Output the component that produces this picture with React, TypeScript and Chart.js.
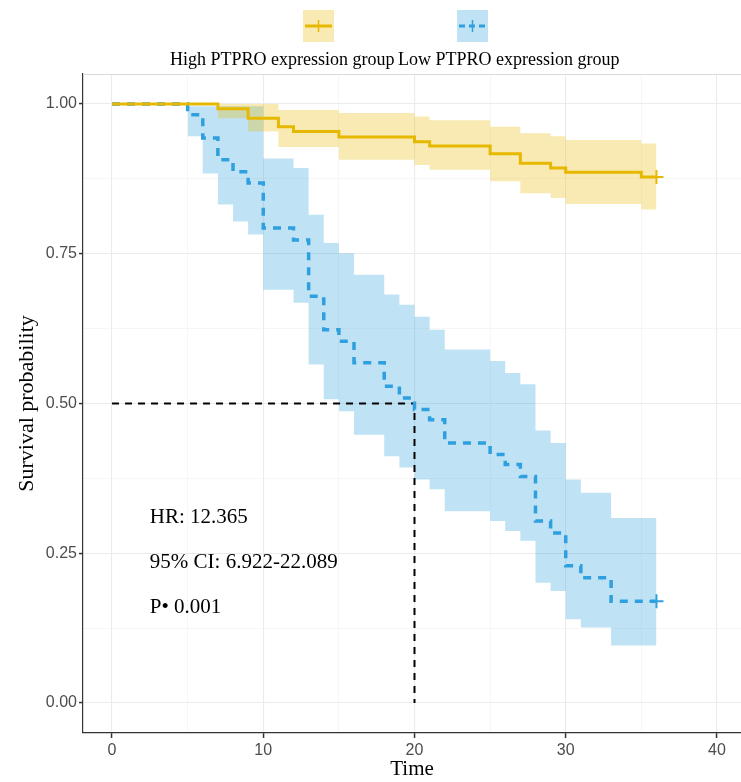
import React, { useEffect, useRef } from 'react';
import { Chart, registerables } from 'chart.js';

Chart.register(...registerables);

// ---- Data ----
const highLabel = 'High PTPRO expression group';
const lowLabel = 'Low PTPRO expression group';

const highTimes = [0, 7, 9, 11, 12, 15, 20, 21, 25, 27, 29, 30, 35, 36];
const highSurv = [1, 0.992, 0.976, 0.962, 0.954, 0.945, 0.937, 0.93, 0.917, 0.901, 0.893, 0.886, 0.878, 0.878];

const highCITimes = [7, 9, 11, 15, 20, 21, 25, 27, 29, 30, 35, 36];
const highUpper = [1, 1, 0.99, 0.985, 0.979, 0.973, 0.962, 0.951, 0.946, 0.94, 0.934, 0.934];
const highLower = [0.976, 0.954, 0.928, 0.907, 0.898, 0.89, 0.871, 0.851, 0.843, 0.833, 0.824, 0.824];

const lowTimes = [0, 5, 6, 7, 8, 9, 10, 12, 13, 14, 15, 16, 18, 19, 20, 21, 22, 25, 26, 27, 28, 29, 30, 31, 33, 36];
const lowSurv = [1, 0.982, 0.943, 0.907, 0.887, 0.868, 0.793, 0.773, 0.679, 0.623, 0.604, 0.568, 0.529, 0.509, 0.49, 0.473, 0.434, 0.415, 0.398, 0.378, 0.304, 0.284, 0.229, 0.209, 0.17, 0.17];

const lowCITimes = [5, 6, 7, 8, 9, 10, 12, 13, 14, 15, 16, 18, 19, 20, 21, 22, 25, 26, 27, 28, 29, 30, 31, 33, 36];
const lowUpper = [0.996, 0.996, 0.996, 0.996, 0.996, 0.909, 0.893, 0.815, 0.768, 0.751, 0.715, 0.682, 0.665, 0.645, 0.623, 0.59, 0.571, 0.551, 0.532, 0.455, 0.434, 0.373, 0.351, 0.309, 0.309];
const lowLower = [0.946, 0.884, 0.832, 0.804, 0.782, 0.69, 0.668, 0.565, 0.507, 0.487, 0.448, 0.412, 0.393, 0.373, 0.357, 0.32, 0.304, 0.287, 0.271, 0.201, 0.187, 0.14, 0.126, 0.096, 0.096];

const medianTimes = [0, 20, 20];
const medianSurv = [0.5, 0.5, 0];

const xTicks = [0, 5, 10, 15, 20, 25, 30, 35, 40];
const yTicks = [0, 0.125, 0.25, 0.375, 0.5, 0.625, 0.75, 0.875, 1];

const annotTexts = ['HR: 12.365', '95% CI: 6.922-22.089', 'P\u2022 0.001'];
const annotX = [2.5, 2.5, 2.5];
const annotY = [0.31, 0.235, 0.16];

const xTitle = 'Time';
const yTitle = 'Survival probability';

// ---- Styles ----
const GOLD = '#E7B800';
const BLUE = '#2E9FDF';
const GOLD_FILL = 'rgba(231,184,0,0.3)';
const BLUE_FILL = 'rgba(46,159,223,0.3)';
const SERIF = '"Liberation Serif", "Times New Roman", serif';
const SANS = '"Liberation Sans", Arial, sans-serif';

const pts = (xs: number[], ys: number[]) => xs.map((x, i) => ({ x, y: ys[i] }));

const isMajorX = (v: number) => v % 10 === 0;
const isMajorY = (v: number) => Math.abs(v * 4 - Math.round(v * 4)) < 1e-9;

const overlayPlugin = {
  id: 'overlay',
  beforeDatasetsDraw(chart: any) {
    const { ctx, chartArea } = chart;
    ctx.save();
    ctx.strokeStyle = '#D9D9D9';
    ctx.lineWidth = 1;
    ctx.beginPath();
    ctx.moveTo(chartArea.left, chartArea.top + 0.5);
    ctx.lineTo(chartArea.right, chartArea.top + 0.5);
    ctx.stroke();
    ctx.restore();
  },
  afterDraw(chart: any) {
    const { ctx } = chart;
    const xs = chart.scales.x;
    const ys = chart.scales.y;
    ctx.save();
    // annotation text
    ctx.font = `21px ${SERIF}`;
    ctx.fillStyle = '#000';
    ctx.textAlign = 'left';
    ctx.textBaseline = 'middle';
    annotTexts.forEach((t, i) => {
      ctx.fillText(t, xs.getPixelForValue(annotX[i]), ys.getPixelForValue(annotY[i]));
    });

    // legend
    const items = [
      { label: highLabel, color: GOLD, fill: GOLD_FILL, dash: [] as number[], boxX: 303, textX: 170 },
      { label: lowLabel, color: BLUE, fill: BLUE_FILL, dash: [6, 4], boxX: 457, textX: 398 },
    ];
    const boxW = 31;
    const boxTop = 10;
    const boxH = 32;
    items.forEach((it) => {
      ctx.fillStyle = it.fill;
      ctx.fillRect(it.boxX, boxTop, boxW, boxH);
      const cy = boxTop + boxH / 2;
      ctx.strokeStyle = it.color;
      ctx.lineWidth = 3;
      ctx.setLineDash(it.dash);
      ctx.beginPath();
      ctx.moveTo(it.boxX + 2, cy);
      ctx.lineTo(it.boxX + boxW - 2, cy);
      ctx.stroke();
      ctx.setLineDash([]);
      ctx.lineWidth = 1.5;
      ctx.beginPath();
      ctx.moveTo(it.boxX + boxW / 2, cy - 6);
      ctx.lineTo(it.boxX + boxW / 2, cy + 6);
      ctx.stroke();
      ctx.fillStyle = '#000';
      ctx.font = `18px ${SERIF}`;
      ctx.textAlign = 'left';
      ctx.textBaseline = 'alphabetic';
      ctx.fillText(it.label, it.textX, 65);
    });
    ctx.restore();
  },
};

export default function App() {
  const ref = useRef<HTMLCanvasElement | null>(null);

  useEffect(() => {
    if (!ref.current) return;
    const lastH = highTimes.length - 1;
    const lastL = lowTimes.length - 1;
    const chart = new Chart(ref.current, {
      type: 'line',
      data: {
        datasets: [
          {
            label: highLabel,
            data: pts(highTimes, highSurv),
            borderColor: GOLD,
            borderWidth: 3,
            stepped: 'before',
            pointRadius: 0,
            fill: false,
            order: 0,
          },
          {
            label: lowLabel,
            data: pts(lowTimes, lowSurv),
            borderColor: BLUE,
            borderWidth: 3.5,
            borderDash: [8, 7],
            stepped: 'before',
            pointRadius: 0,
            fill: false,
            order: 0,
          },
          {
            label: 'censor high',
            data: [{ x: highTimes[lastH], y: highSurv[lastH] }],
            showLine: false,
            pointStyle: 'cross',
            pointRadius: 7,
            borderColor: GOLD,
            backgroundColor: GOLD,
            borderWidth: 2,
            order: 0,
          },
          {
            label: 'censor low',
            data: [{ x: lowTimes[lastL], y: lowSurv[lastL] }],
            showLine: false,
            pointStyle: 'cross',
            pointRadius: 7,
            borderColor: BLUE,
            backgroundColor: BLUE,
            borderWidth: 2,
            order: 0,
          },
          {
            label: 'median',
            data: pts(medianTimes, medianSurv),
            borderColor: '#000',
            borderWidth: 2,
            borderDash: [7, 6],
            pointRadius: 0,
            fill: false,
            order: 1,
          },
          {
            label: 'high upper',
            data: pts(highCITimes, highUpper),
            borderColor: 'transparent',
            borderWidth: 0,
            stepped: 'before',
            pointRadius: 0,
            fill: '+1',
            backgroundColor: GOLD_FILL,
            order: 2,
          },
          {
            label: 'high lower',
            data: pts(highCITimes, highLower),
            borderColor: 'transparent',
            borderWidth: 0,
            stepped: 'before',
            pointRadius: 0,
            fill: false,
            order: 2,
          },
          {
            label: 'low upper',
            data: pts(lowCITimes, lowUpper),
            borderColor: 'transparent',
            borderWidth: 0,
            stepped: 'before',
            pointRadius: 0,
            fill: '+1',
            backgroundColor: BLUE_FILL,
            order: 2,
          },
          {
            label: 'low lower',
            data: pts(lowCITimes, lowLower),
            borderColor: 'transparent',
            borderWidth: 0,
            stepped: 'before',
            pointRadius: 0,
            fill: false,
            order: 2,
          },
        ],
      },
      options: {
        animation: false,
        responsive: false,
        maintainAspectRatio: false,
        layout: { autoPadding: false, padding: { top: 74, left: 0, right: 0, bottom: 0 } },
        plugins: {
          legend: { display: false },
          tooltip: { enabled: false },
        },
        scales: {
          x: {
            type: 'linear',
            min: -1.92,
            max: 41.59,
            afterBuildTicks: (scale: any) => {
              scale.ticks = xTicks.map((v) => ({ value: v }));
            },
            afterFit: (scale: any) => {
              scale.height = 49;
              scale.paddingLeft = 0;
              scale.paddingRight = 0;
            },
            ticks: {
              autoSkip: false,
              maxRotation: 0,
              padding: 3,
              color: '#4D4D4D',
              font: { family: SANS, size: 16 },
              callback: (v: any) => (isMajorX(Number(v)) ? String(v) : ''),
            },
            grid: {
              color: (c: any) => (c.tick && isMajorX(c.tick.value) ? '#EBEBEB' : '#F2F2F2'),
              lineWidth: (c: any) => (c.tick && isMajorX(c.tick.value) ? 1.1 : 0.7),
              tickColor: (c: any) => (c.tick && isMajorX(c.tick.value) ? '#333333' : 'rgba(0,0,0,0)'),
              tickWidth: 1.5,
              tickLength: 5,
              drawTicks: true,
            },
            border: { display: true, color: '#333333', width: 1.2 },
            title: {
              display: true,
              text: xTitle,
              color: '#000',
              font: { family: SERIF, size: 21 },
              padding: { top: 0, bottom: 0 },
            },
          },
          y: {
            type: 'linear',
            min: -0.05,
            max: 1.05,
            afterBuildTicks: (scale: any) => {
              scale.ticks = yTicks.map((v) => ({ value: v }));
            },
            afterFit: (scale: any) => {
              scale.width = 83;
            },
            ticks: {
              autoSkip: false,
              padding: 2,
              color: '#4D4D4D',
              font: { family: SANS, size: 16 },
              callback: (v: any) => (isMajorY(Number(v)) ? Number(v).toFixed(2) : ''),
            },
            grid: {
              color: (c: any) => (c.tick && isMajorY(c.tick.value) ? '#EBEBEB' : '#F2F2F2'),
              lineWidth: (c: any) => (c.tick && isMajorY(c.tick.value) ? 1.1 : 0.7),
              tickColor: (c: any) => (c.tick && isMajorY(c.tick.value) ? '#333333' : 'rgba(0,0,0,0)'),
              tickWidth: 1.5,
              tickLength: 4,
              drawTicks: true,
            },
            border: { display: true, color: '#333333', width: 1.2 },
            title: {
              display: true,
              text: yTitle,
              color: '#000',
              font: { family: SERIF, size: 22 },
              padding: { top: 14, bottom: 0 },
            },
          },
        },
      } as any,
      plugins: [overlayPlugin],
    });
    return () => chart.destroy();
  }, []);

  return (
    <div style={{ position: 'absolute', left: 0, top: 0, width: 741, height: 782, background: '#fff', overflow: 'hidden' }}>
      <canvas ref={ref} width={741} height={782} style={{ display: 'block', width: 741, height: 782 }} />
    </div>
  );
}
